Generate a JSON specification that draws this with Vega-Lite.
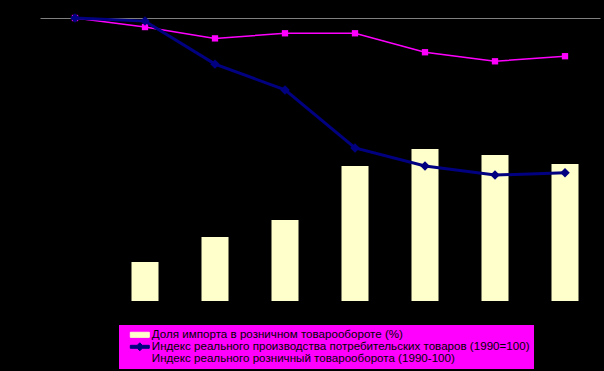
{
  "$schema": "https://vega.github.io/schema/vega-lite/v6.json",
  "background": "#000000",
  "autosize": {"type": "none"},
  "width": 560,
  "height": 283,
  "padding": {"left": 40, "top": 18, "right": 4, "bottom": 70},
  "config": {"view": {"stroke": null}},
  "data": {"values": [
    {"year": "1990", "import": null, "prod": 100, "retail": 100},
    {"year": "1991", "import": 13.8, "prod": 98.9, "retail": 96.8},
    {"year": "1992", "import": 22.6, "prod": 83.7, "retail": 92.8},
    {"year": "1993", "import": 28.6, "prod": 74.6, "retail": 94.6},
    {"year": "1994", "import": 47.7, "prod": 54.1, "retail": 94.6},
    {"year": "1995", "import": 53.7, "prod": 47.7, "retail": 87.9},
    {"year": "1996", "import": 51.6, "prod": 44.5, "retail": 84.7},
    {"year": "1997", "import": 48.4, "prod": 45.3, "retail": 86.5}
  ]},
  "encoding": {
    "x": {"field": "year", "type": "ordinal", "axis": null,
          "scale": {"paddingInner": 0.614, "paddingOuter": 0.307}}
  },
  "layer": [
    {
      "mark": {"type": "bar"},
      "encoding": {
        "y": {"field": "import", "type": "quantitative",
              "scale": {"domain": [0, 100], "nice": false, "zero": true},
              "axis": {"title": null, "labels": false, "ticks": false, "domain": false,
                       "values": [100], "grid": true, "gridColor": "#808080", "gridWidth": 1, "gridOpacity": 1}},
        "color": {"datum": "Доля импорта в розничном товарообороте (%)", "type": "nominal",
          "scale": {
            "domain": ["Доля импорта в розничном товарообороте (%)",
                       "Индекс реального производства потребительских товаров (1990=100)",
                       "Индекс реального розничный товарооборота (1990-100)"],
            "range": ["#ffffcc", "#000080", "#ff00ff"]},
          "legend": {
            "title": null, "orient": "none", "legendX": 79, "legendY": 307,
            "fillColor": "#ff00ff", "padding": 4, "rowPadding": -2,
            "labelFont": "Liberation Sans", "labelFontSize": 11.6, "labelColor": "#000000",
            "labelLimit": 600, "symbolSize": 81, "symbolStrokeWidth": 1, "symbolOpacity": 1, "symbolOffset": 11, "labelOffset": 6.25,
            "symbolType": "M-2.11,-0.56H2.11V0.56H-2.11Z",
            "encode": {"symbols": {"update": {
              "shape": {"signal": "datum.index == 1 ? 'M-2.11,-0.33H-0.56L0,-0.89L0.56,-0.33H2.11V0.33H0.56L0,0.89L-0.56,0.33H-2.11Z' : 'M-2.11,-0.56H2.11V0.56H-2.11Z'"},
              "fill": {"signal": "datum.index == 0 ? '#ffffcc' : datum.index == 1 ? '#000080' : '#ff00ff'"},
              "stroke": {"signal": "datum.index == 0 ? '#000000' : 'transparent'"},
              "strokeWidth": {"value": 1},
              "opacity": {"value": 1}
            }}}
          }}
      }
    },
    {
      "mark": {"type": "line", "strokeWidth": 1.5},
      "encoding": {
        "y": {"field": "retail", "type": "quantitative"},
        "color": {"datum": "Индекс реального розничный товарооборота (1990-100)", "type": "nominal"}
      }
    },
    {
      "mark": {"type": "point", "shape": "square", "filled": true, "size": 40, "opacity": 1},
      "encoding": {
        "y": {"field": "retail", "type": "quantitative"},
        "color": {"datum": "Индекс реального розничный товарооборота (1990-100)", "type": "nominal"}
      }
    },
    {
      "mark": {"type": "line", "strokeWidth": 3},
      "encoding": {
        "y": {"field": "prod", "type": "quantitative"},
        "color": {"datum": "Индекс реального производства потребительских товаров (1990=100)", "type": "nominal"}
      }
    },
    {
      "mark": {"type": "point", "shape": "diamond", "filled": true, "size": 90, "opacity": 1},
      "encoding": {
        "y": {"field": "prod", "type": "quantitative"},
        "color": {"datum": "Индекс реального производства потребительских товаров (1990=100)", "type": "nominal"}
      }
    }
  ]
}
